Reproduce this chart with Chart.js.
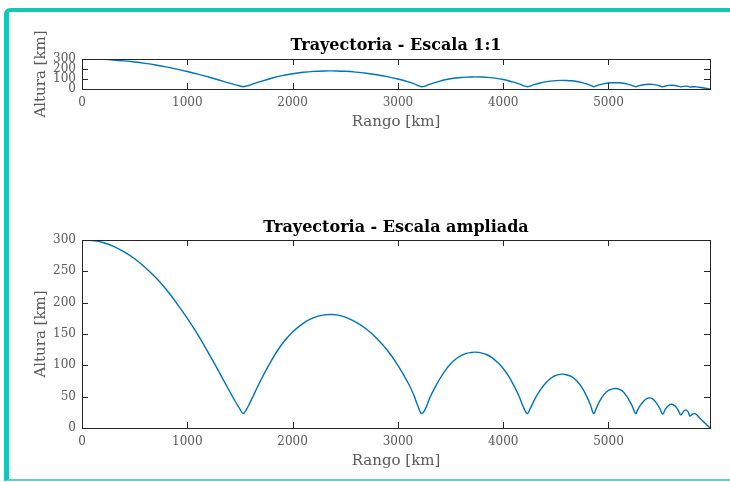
<!DOCTYPE html>
<html><head><meta charset="utf-8">
<script src="https://cdn.jsdelivr.net/npm/chart.js@4"></script>
<style>
html,body{margin:0;padding:0;background:#fff;width:730px;height:482px;overflow:hidden;}
#frame{position:absolute;left:4px;top:8px;width:800px;height:473px;box-sizing:border-box;border-top:4px solid #14c6b6;border-left:5px solid #14c6b6;border-bottom:2px solid #5fd0c5;border-top-left-radius:6px;}
canvas{position:absolute;left:0;}
</style></head><body>
<div id="frame"></div>
<canvas id="c1" width="730" height="143" style="top:0px"></canvas>
<canvas id="c2" width="730" height="282" style="top:200px"></canvas>
<script>
// ---- data ----
const rangoKm = [
  0,100,200,300,400,500,600,700,800,900,1000,1100,1200,1300,1400,1450,1500,1530,
  1560,1600,1700,1800,1900,2000,2100,2200,2300,2355,2420,2500,2600,2700,2800,2900,3000,3100,3150,3190,3225,
  3260,3300,3350,3400,3450,3500,3550,3600,3650,3700,3732,3800,3850,3900,3950,4000,4050,4100,4150,4190,4229,
  4260,4300,4350,4400,4450,4500,4555,4600,4650,4700,4750,4800,4830,4859,
  4885,4920,4960,5000,5040,5068,5100,5140,5180,5220,5258,
  5280,5310,5350,5385,5420,5460,5490,5515,
  5540,5570,5600,5630,5660,5686,
  5710,5733,5755,5774,
  5795,5815,5835,5860,5890,5920,5945,5964
];
const alturaKm = [
  300,299,296,290,281,270,256,240,221,199,175,149,120,90,59,44,30,23,
  29,42,77,108,134,153,167,176,180.5,181,180.5,177,169,158,143,124,100,71,53,35,23,
  30,47,64,79,92,102,110,115.5,119,120.5,121,119.5,116.5,111.5,104,95,83,68,51,34,23,
  32,46,60,71,79,84,86,85,82,75,64,48,36,23,
  32,44,54,60,62.5,63,62,58,49,37,23,
  30,38,45.5,48,46.5,39,30,22,
  30,36,38,35.5,29,21,
  26,29,26,19,
  22,23,21.5,17,12,7,3,0
];
const xTicks = [0,1000,2000,3000,4000,5000];
const yTicksTop = [0,100,200,300];
const yTicksBottom = [0,50,100,150,200,250,300];
const xMax = 5964;
const yMax = 300;
const titles = ['Trayectoria - Escala 1:1','Trayectoria - Escala ampliada'];
const xLabel = 'Rango [km]';
const yLabel = 'Altura [km]';

// ---- styling ----
const FONT = "'DejaVu Serif', serif";
const TICK_C = '#5a5a5a';
const AX_C = '#262626';
const LINE_C = '#0072BD';

const pts = rangoKm.map((x, i) => ({x: x, y: alturaKm[i]}));

const boxTicks = {
  id: 'boxTicks',
  afterDatasetsDraw(chart) {
    const {ctx, chartArea: a, scales: {x, y}} = chart;
    const L = 6;
    ctx.save();
    ctx.strokeStyle = AX_C;
    ctx.lineWidth = 1;
    ctx.beginPath();
    x.ticks.forEach(t => {
      const px = Math.round(x.getPixelForValue(t.value)) + 0.5;
      ctx.moveTo(px, a.bottom); ctx.lineTo(px, a.bottom - L);
      ctx.moveTo(px, a.top); ctx.lineTo(px, a.top + L);
    });
    y.ticks.forEach(t => {
      const py = Math.round(y.getPixelForValue(t.value)) + 0.5;
      ctx.moveTo(a.left, py); ctx.lineTo(a.left + L, py);
      ctx.moveTo(a.right, py); ctx.lineTo(a.right - L, py);
    });
    ctx.stroke();
    ctx.strokeRect(Math.round(a.left) + 0.5, Math.round(a.top) + 0.5,
                   Math.round(a.right - a.left), Math.round(a.bottom - a.top));
    // y axis title (drawn here so it is not squeezed to the axis height)
    ctx.fillStyle = TICK_C;
    ctx.font = "15px " + FONT;
    ctx.textAlign = 'center';
    ctx.textBaseline = 'middle';
    ctx.translate(41, (a.top + a.bottom) / 2);
    ctx.rotate(-Math.PI / 2);
    ctx.fillText(yLabel, 0, 0);
    ctx.restore();
  }
};

function makeChart(id, titleText, yTicks, padTop, padBottom) {
  return new Chart(document.getElementById(id), {
    type: 'line',
    data: { datasets: [{ data: pts, borderColor: LINE_C, borderWidth: 1.4, pointRadius: 0,
                         tension: 0.35, fill: false }] },
    options: {
      responsive: false, animation: false, events: [],
      layout: { padding: { left: 0, right: 20, top: 0, bottom: 0 } },
      plugins: {
        legend: { display: false }, tooltip: { enabled: false },
        title: { display: true, fullSize: false, text: titleText, color: '#000',
                 font: { family: FONT, size: 16, weight: 'bold', lineHeight: 1.2 },
                 padding: { top: padTop, bottom: padBottom } }
      },
      scales: {
        x: { type: 'linear', min: 0, max: xMax,
             grid: { display: false, drawTicks: false }, border: { display: false },
             ticks: { color: TICK_C, font: { family: FONT, size: 12, lineHeight: 1.2 }, padding: 7,
                      autoSkip: false, maxRotation: 0, callback: v => String(v) },
             title: { display: true, text: xLabel, color: TICK_C,
                      font: { family: FONT, size: 15, lineHeight: 1.2 }, padding: { top: 0, bottom: 11.5 } },
             afterBuildTicks: s => { s.ticks = xTicks.map(v => ({ value: v })); },
             afterFit: s => { s.height = 54; } },
        y: { type: 'linear', min: 0, max: yMax,
             grid: { display: false, drawTicks: false }, border: { display: false },
             ticks: { color: TICK_C, font: { family: FONT, size: 12, lineHeight: 1.2 }, padding: 6,
                      autoSkip: false, callback: v => String(v) },
             afterBuildTicks: s => { s.ticks = yTicks.map(v => ({ value: v })); },
             afterFit: s => { s.width = 82; } }
      }
    },
    plugins: [boxTicks]
  });
}

makeChart('c1', titles[0], yTicksTop, 36.4, 3.4);
makeChart('c2', titles[1], yTicksBottom, 18.4, 2.4);
</script>
</body></html>
